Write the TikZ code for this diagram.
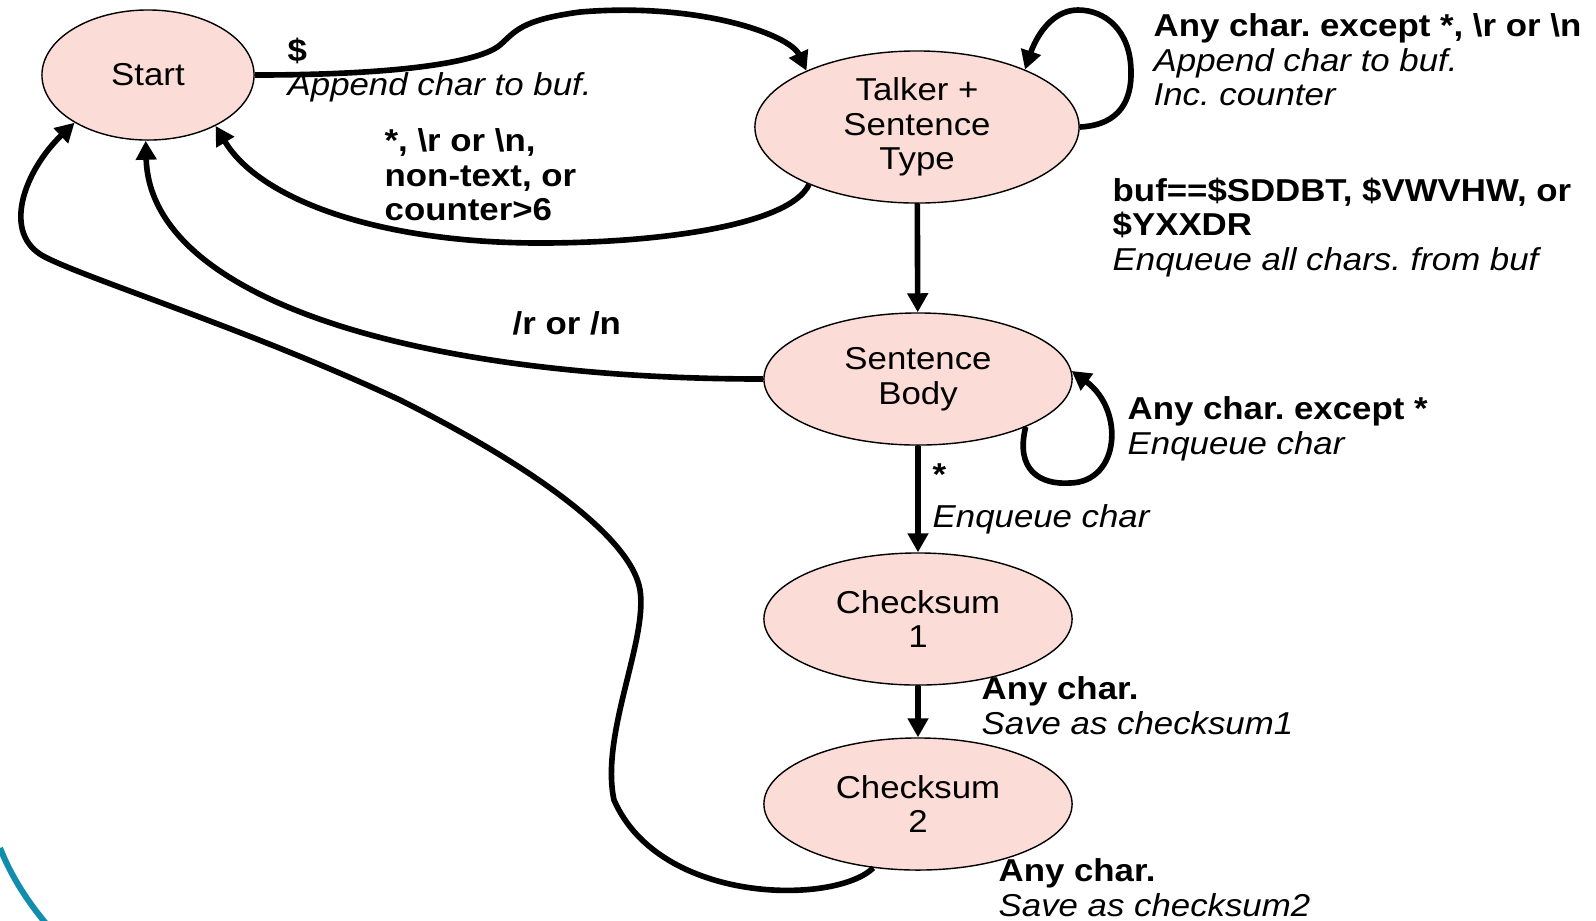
\documentclass[tikz,border=0pt]{standalone}
\usepackage{fontspec}
\setmainfont{Liberation Sans}[FakeStretch=1.1]
\usetikzlibrary{shapes.geometric,arrows.meta}
\definecolor{statepink}{RGB}{252,220,214}
\definecolor{slideblue}{RGB}{17,142,173}
\frenchspacing

\begin{document}
\begin{tikzpicture}[
  x=0.01cm, y=-0.01cm,
  font=\fontsize{9}{9.8}\selectfont,
  st/.style={ellipse, draw, line width=0.4pt, fill=statepink, inner sep=0pt,
    align=center, minimum width=3.08cm, minimum height=1.32cm},
  tr/.style={line width=1.6pt, -{Triangle[length=1.9mm, width=2.0mm]}},
  lbl/.style={anchor=north west, inner sep=0pt, align=left}
]
\useasboundingbox (0,0) rectangle (1596,920);

% slide decoration, lower left corner
\draw[slideblue, line width=0.6mm] (0,848) .. controls (12,878) and (28,902) .. (48,926);

% states
\node[st, minimum width=2.12cm, minimum height=1.30cm] (start) at (148,75) {Start};
\node[st, minimum width=3.24cm, minimum height=1.52cm] (talker) at (917,127) {Talker +\\Sentence\\Type};
\node[st] (body) at (918,379) {Sentence\\Body};
\node[st] (cs1) at (918,619) {Checksum\\1};
\node[st] (cs2) at (918,804) {Checksum\\2};

% transitions
\draw[tr] (start.east) .. controls (400,75) and (480,62) .. (500,45)
  .. controls (515,32) and (520,20) .. (580,12)
  .. controls (700,2) and (790,35) .. (talker.153);
\draw[tr] (talker.208) .. controls (790,225) and (660,243) .. (540,243)
  .. controls (380,243) and (260,200) .. (start.323);
\draw[tr] (talker.0) .. controls (1120,125) and (1132,100) .. (1131,70)
  .. controls (1130,30) and (1105,10) .. (1078,10)
  .. controls (1050,10) and (1035,40) .. (talker.28);
\draw[tr] (talker) -- (body);
\draw[tr] (body.west) .. controls (420,379) and (150,300) .. (start.268);
\draw[tr] (body.336) .. controls (1015,470) and (1040,485) .. (1070,483)
  .. controls (1120,482) and (1125,410) .. (body.3);
\draw[tr] (body) -- (cs1);
\draw[tr] (cs1) -- (cs2);
\draw[tr] (cs2.235) .. controls (835,905) and (660,905) .. (614,800)
  .. controls (600,735) and (648,640) .. (640,590)
  .. controls (632,540) and (540,470) .. (400,400)
  .. controls (250,330) and (90,280) .. (45,257)
  .. controls (0,234) and (25,170) .. (start.213);

% labels
\node[lbl] (l_dollar) at (287,37) {\textbf{\$}\\\textit{Append char to buf.}};
\node[lbl] (l_reset) at (384,128) {\textbf{*, \textbackslash r or \textbackslash n,}\\\textbf{non-text, or}\\\textbf{counter>6}};
\node[lbl] (l_talker) at (1153,13) {\textbf{Any char. except *, \textbackslash r or \textbackslash n}\\\textit{Append char to buf.}\\\textit{Inc. counter}};
\node[lbl] (l_buf) at (1112,177) {\textbf{buf==\$SDDBT, \$VWVHW, or}\\\textbf{\$YXXDR}\\\textit{Enqueue all chars. from buf}};
\node[lbl] (l_eol) at (512,311) {\textbf{/r or /n}};
\node[lbl] (l_body) at (1127,396) {\textbf{Any char. except *}\\\textit{Enqueue char}};
\node[lbl] (l_star) at (932,463) {\textbf{*}\\[2.2pt]\textit{Enqueue char}};
\node[lbl] (l_cs1) at (981,676) {\textbf{Any char.}\\\textit{Save as checksum1}};
\node[lbl] (l_cs2) at (998,858) {\textbf{Any char.}\\\textit{Save as checksum2}};

\end{tikzpicture}
\end{document}
